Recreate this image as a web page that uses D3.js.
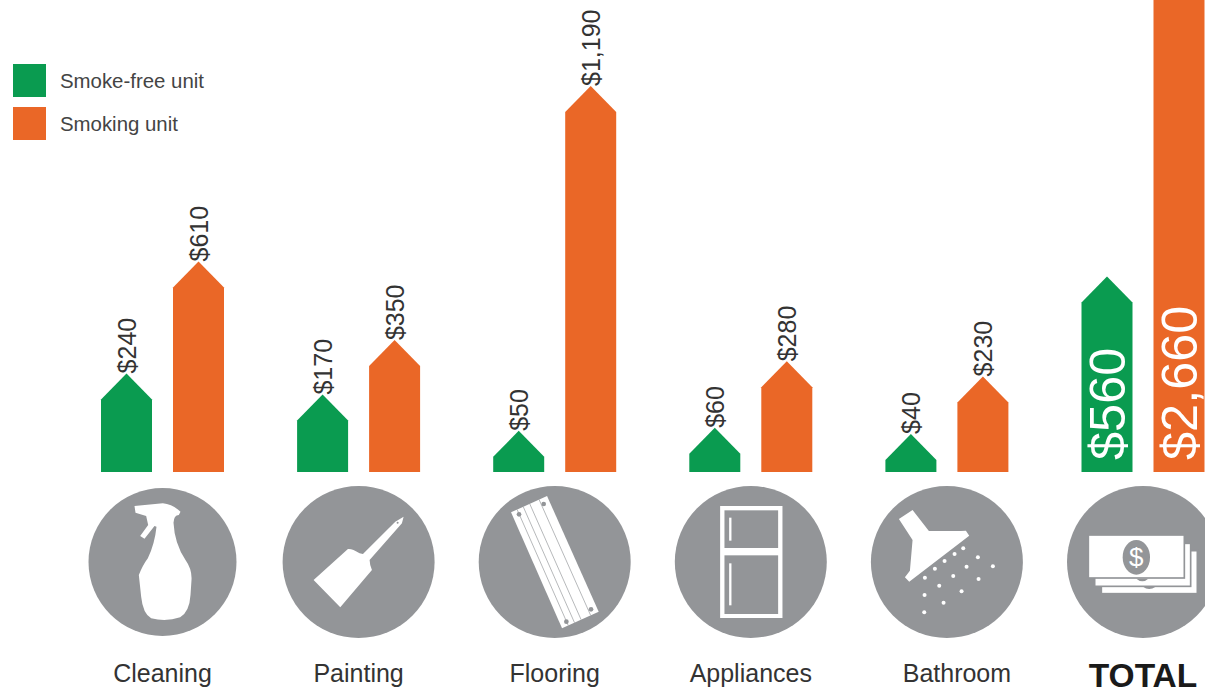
<!DOCTYPE html>
<html>
<head>
<meta charset="utf-8">
<script src="https://cdn.jsdelivr.net/npm/d3@7"></script>
<style>
  html, body { margin: 0; padding: 0; background: #fff; overflow: hidden; }
  text { font-family: "Liberation Sans", Arial, sans-serif; }
</style>
</head>
<body>
<svg class="chart"></svg>
<script>
// chart data
let categories = ["Cleaning", "Painting", "Flooring", "Appliances", "Bathroom", "TOTAL"];
let series = ["Smoke-free unit", "Smoking unit"];
let smoke_free = [240, 170, 50, 60, 40, 560];
let smoking = [610, 350, 1190, 280, 230, 2660];

let w = 1205;
let h = 693;
let base_y = 472;
let head = 26; // height of the arrow head on top of each bar

let green = "#0a9b50";
let orange = "#ea6727";
let grey = "#939598";

let svg = d3.select("svg.chart")
    .attr("width", w)
    .attr("height", h)
    .style("display", "block");

let x = d3.scaleBand()
    .domain(categories)
    .range([101, 101 + 196.1 * categories.length]);

let x_inner = d3.scaleBand()
    .domain(series)
    .range([0, 123])
    .paddingInner(21 / 72);

let y = d3.scaleLinear()
    .domain([0, 1190])
    .range([base_y, 112]);

let color = d3.scaleOrdinal().domain(series).range([green, orange]);
let fmt = d3.format("$,");

// middle of a bar pair, the discs and names hang off this
let pair_mid = d => x(d) + 61.5;

// bars: a flat bar with a pointed top
let rows = [];
categories.forEach((c, i) => {
    rows.push({category: c, serie: series[0], value: smoke_free[i]});
    rows.push({category: c, serie: series[1], value: smoking[i]});
});

let bar_x = d => x(d.category) + x_inner(d.serie);
let bar_line = d3.line();

svg.append("g").attr("class", "bars")
    .selectAll("path")
    .data(rows)
    .enter()
    .append("path")
    .attr("d", d => {
        let x0 = bar_x(d);
        let x1 = x0 + x_inner.bandwidth();
        let top = y(d.value);
        return bar_line([[x0, base_y], [x0, top], [(x0 + x1) / 2, top - head], [x1, top], [x1, base_y]]) + "Z";
    })
    .attr("fill", d => color(d.serie));

// value labels: above the tip, except TOTAL where they sit inside the bar
let labels = svg.append("g").attr("class", "labels");

labels.selectAll("text")
    .data(rows)
    .enter()
    .append("text")
    .text(d => fmt(d.value))
    .attr("transform", d => {
        let total = d.category == "TOTAL";
        let cx = bar_x(d) + x_inner.bandwidth() / 2 + (total ? 0 : 0.5);
        let start = total ? base_y - 12 : y(d.value) - head;
        return "translate(" + cx + "," + start + ") rotate(-90)";
    })
    .attr("dy", "0.35em")
    .attr("font-size", d => d.category == "TOTAL" ? "50.5px" : "25px")
    .attr("fill", d => d.category == "TOTAL" ? "#fff" : "#333");

// category labels, Bathroom sits off-centre in the original
svg.append("g").attr("class", "names")
    .selectAll("text")
    .data(categories)
    .enter()
    .append("text")
    .text(d => d)
    .attr("x", d => pair_mid(d) + (d == "Bathroom" ? 10 : 0))
    .attr("y", d => d == "TOTAL" ? 687 : 682)
    .attr("text-anchor", "middle")
    .attr("font-size", d => d == "TOTAL" ? "33.5px" : "25px")
    .attr("font-weight", d => d == "TOTAL" ? "bold" : "normal")
    .attr("fill", d => d == "TOTAL" ? "#1a1a1a" : "#333");

// grey discs with the icons, icons are drawn at 3x around the disc centre
let disc_r = {Cleaning: 74};
let disc_y = 562;
let discs = svg.append("g").attr("class", "icons")
    .selectAll("g")
    .data(categories)
    .enter()
    .append("g")
    .attr("transform", d => "translate(" + pair_mid(d) + "," + disc_y + ")");

discs.append("circle")
    .attr("r", d => disc_r[d] || 76)
    .attr("fill", grey);

function icon(name, cx, cy) {
    return discs.filter(d => d == name)
        .append("g")
        .attr("transform", "scale(" + (1 / 3) + ") translate(" + (-cx) + "," + (-cy) + ")");
}

// spray bottle
icon("Cleaning", 249, 246).append("path")
    .attr("fill", "#fff")
    .attr("d", "M165,78 L250,70 Q278,72 303,95 L298,105 Q283,106 282,128 Q285,190 318,240 Q338,268 336,300 "
        + "L333,345 Q330,395 302,412 Q260,426 215,415 Q190,400 185,350 L178,285 Q190,255 205,235 Q226,190 231,140 "
        + "L225,138 L195,176 L182,168 L206,135 L200,108 L168,98 Z");

// paint scraper
let scraper = icon("Painting", 835, 246);
scraper.append("path")
    .attr("fill", "#fff")
    .attr("d", "M700,300 L803,207 Q815,205 838,220 L848,222 L945,125 L970,110 L965,130 L868,240 "
        + "Q868,252 875,270 L780,382 Z");
scraper.append("circle").attr("cx", 952).attr("cy", 128).attr("r", 3).attr("fill", grey);

// floor board
let board = icon("Flooring", 283, 246);
board.append("path")
    .attr("fill", "#fff")
    .attr("d", "M152,97 L260,48 L415,395 L305,445 Z");
[0.17, 0.34, 0.52, 0.78].forEach(t => {
    board.append("line")
        .attr("x1", 152 + 108 * t).attr("y1", 97 - 49 * t)
        .attr("x2", 305 + 110 * t).attr("y2", 445 - 50 * t)
        .attr("stroke", grey).attr("stroke-width", 2);
});
[[176, 103], [250, 72], [392, 388], [318, 425]].forEach(p => {
    board.append("circle").attr("cx", p[0]).attr("cy", p[1]).attr("r", 7).attr("fill", grey);
});

// fridge
let fridge = icon("Appliances", 871, 246);
fridge.append("rect")
    .attr("x", 779).attr("y", 78).attr("width", 187).attr("height", 336)
    .attr("fill", "#fff");
fridge.append("rect")
    .attr("x", 792).attr("y", 91).attr("width", 161).attr("height", 113)
    .attr("fill", grey);
fridge.append("rect")
    .attr("x", 792).attr("y", 226).attr("width", 161).attr("height", 176)
    .attr("fill", grey);
fridge.append("rect")
    .attr("x", 806).attr("y", 113).attr("width", 7).attr("height", 69)
    .attr("fill", "#fff");
fridge.append("rect")
    .attr("x", 806).attr("y", 250).attr("width", 7).attr("height", 126)
    .attr("fill", "#fff");

// shower head and drops
let shower = icon("Bathroom", 261, 246);
shower.append("path")
    .attr("fill", "#fff")
    .attr("d", "M117,117 L158,90 L207,153 L303,153 L318,152 L328,167 L148,305 L135,292 L150,272 L158,180 Z");
[[310, 205], [284, 222], [254, 243], [225, 266], [195, 293], [354, 232], [320, 260], [280, 288],
 [238, 317], [194, 345], [399, 259], [356, 297], [305, 334], [251, 368], [193, 397]].forEach(p => {
    shower.append("circle").attr("cx", p[0]).attr("cy", p[1]).attr("r", 6).attr("fill", "#fff");
});

// stack of bills
let bills = icon("TOTAL", 850, 246);
[[725, 212], [705, 190], [686, 165]].forEach(p => {
    bills.append("rect")
        .attr("x", p[0]).attr("y", p[1]).attr("width", 288).attr("height", 129)
        .attr("fill", "#fff")
        .attr("stroke", grey)
        .attr("stroke-width", 5);
});
bills.append("ellipse")
    .attr("cx", 830).attr("cy", 232).attr("rx", 41).attr("ry", 52)
    .attr("fill", grey);
bills.append("path")
    .attr("fill", grey)
    .attr("d", "M830,296 Q848,312 866,296 Z M850,320 Q868,334 888,320 Z");
bills.append("text")
    .text("$")
    .attr("x", 830).attr("y", 259)
    .attr("text-anchor", "middle")
    .attr("font-size", "78px")
    .attr("fill", "#fff");

// legend
let legend = svg.append("g").attr("class", "legend")
    .selectAll("g")
    .data(series)
    .enter()
    .append("g")
    .attr("transform", (d, i) => "translate(13," + (64 + i * 43) + ")");

legend.append("rect")
    .attr("width", 33)
    .attr("height", 33)
    .attr("fill", d => color(d));

legend.append("text")
    .text(d => d)
    .attr("x", 47)
    .attr("y", 23.5)
    .attr("font-size", "20.4px")
    .attr("fill", "#444");
</script>
</body>
</html>
